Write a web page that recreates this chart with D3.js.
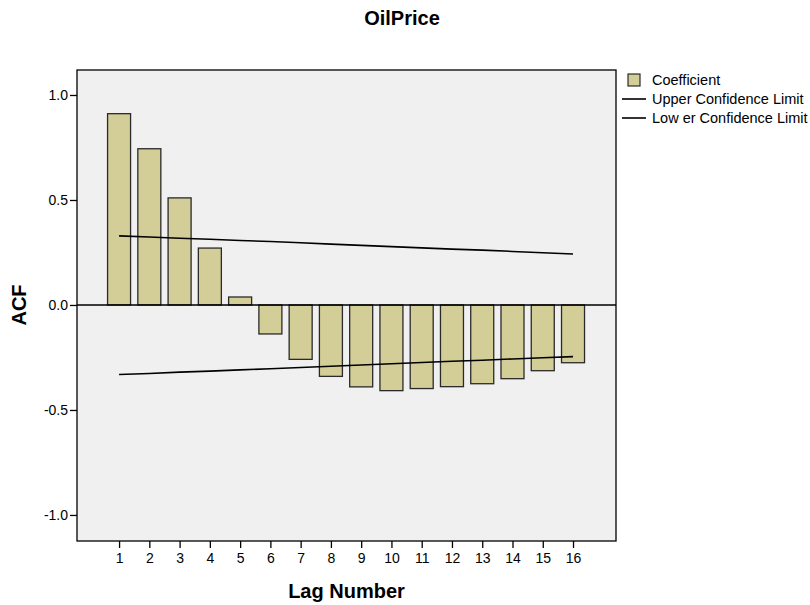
<!DOCTYPE html>
<html>
<head>
<meta charset="utf-8">
<script src="https://cdn.jsdelivr.net/npm/d3@7"></script>
<style>
  body { margin: 0; background: #fff; }
  text { font-family: "Liberation Sans", Arial, sans-serif; }
</style>
</head>
<body>
<div id="chart"></div>
<script>
var lags = [1, 2, 3, 4, 5, 6, 7, 8, 9, 10, 11, 12, 13, 14, 15, 16];
var coefficient = [0.911, 0.744, 0.510, 0.271, 0.038, -0.138, -0.259, -0.340, -0.390, -0.408, -0.398, -0.389, -0.375, -0.351, -0.313, -0.275];
var upperLimit = [0.329, 0.324, 0.318, 0.313, 0.307, 0.302, 0.296, 0.290, 0.284, 0.278, 0.272, 0.266, 0.261, 0.255, 0.249, 0.243];
var lowerLimit = [-0.331, -0.326, -0.320, -0.315, -0.309, -0.304, -0.298, -0.292, -0.286, -0.280, -0.274, -0.268, -0.263, -0.257, -0.251, -0.246];
var yTicks = [-1.0, -0.5, 0.0, 0.5, 1.0];
var legendLabels = ["Coefficient", "Upper Confidence Limit", "Low er Confidence Limit"];

var svgWidth = 810;
var svgHeight = 605;
var margin = { top: 70, right: 194, bottom: 64, left: 77 };
var width = svgWidth - margin.left - margin.right;
var height = svgHeight - margin.top - margin.bottom;

var svg = d3.select("#chart")
  .append("svg")
  .attr("width", svgWidth)
  .attr("height", svgHeight);

var chartGroup = svg.append("g")
  .attr("transform", `translate(${margin.left}, ${margin.top})`);

// scales
var xScale = d3.scaleLinear()
  .domain([-0.39, 17.42])
  .range([0, width]);

var yScale = d3.scaleLinear()
  .domain([-1.124, 1.119])
  .range([height, 0]);

var step = xScale(2) - xScale(1);
var barWidth = step * 0.76;

// plot background
chartGroup.append("rect")
  .attr("width", width)
  .attr("height", height)
  .attr("fill", "#f0f0f0");

// bars
chartGroup.selectAll(".bar")
  .data(coefficient)
  .enter()
  .append("rect")
  .attr("class", "bar")
  .attr("x", (d, i) => xScale(lags[i]) - barWidth / 2)
  .attr("y", d => yScale(Math.max(0, d)))
  .attr("width", barWidth)
  .attr("height", d => Math.abs(yScale(d) - yScale(0)))
  .attr("fill", "#d3ce97")
  .attr("stroke", "#2a2a2a")
  .attr("stroke-width", 1.3);

// zero line
chartGroup.append("line")
  .attr("x1", 0)
  .attr("x2", width)
  .attr("y1", yScale(0))
  .attr("y2", yScale(0))
  .attr("stroke", "#000")
  .attr("stroke-width", 1.3);

// confidence limits
var limitLine = d3.line()
  .x((d, i) => xScale(lags[i]))
  .y(d => yScale(d));

[upperLimit, lowerLimit].forEach(function(vals) {
  chartGroup.append("path")
    .datum(vals)
    .attr("d", limitLine)
    .attr("fill", "none")
    .attr("stroke", "#000")
    .attr("stroke-width", 1.6);
});

// frame
chartGroup.append("rect")
  .attr("width", width)
  .attr("height", height)
  .attr("fill", "none")
  .attr("stroke", "#000")
  .attr("stroke-width", 1.3);

// axes
var leftAxis = d3.axisLeft(yScale)
  .tickValues(yTicks)
  .tickFormat(d => d.toFixed(1))
  .tickSize(7)
  .tickSizeOuter(0);

var bottomAxis = d3.axisBottom(xScale)
  .tickValues(lags)
  .tickFormat(d => String(d))
  .tickSize(7)
  .tickSizeOuter(0);

var yAxisG = chartGroup.append("g").call(leftAxis);
var xAxisG = chartGroup.append("g")
  .attr("transform", `translate(0, ${height})`)
  .call(bottomAxis);

[yAxisG, xAxisG].forEach(function(g) {
  g.select(".domain").remove();
  g.selectAll("line").attr("stroke", "#000").attr("stroke-width", 1.3);
  g.selectAll("text")
    .attr("fill", "#000")
    .style("font-size", "14px")
    .style("font-family", "'Liberation Sans', Arial, sans-serif");
});
yAxisG.selectAll("text").attr("x", -9);
xAxisG.selectAll("text").attr("y", 12);

// title and axis labels
svg.append("text")
  .attr("x", 402)
  .attr("y", 25)
  .attr("text-anchor", "middle")
  .style("font-size", "20px")
  .style("font-weight", "bold")
  .text("OilPrice");

svg.append("text")
  .attr("transform", `translate(26, ${margin.top + yScale(0)}) rotate(-90)`)
  .attr("text-anchor", "middle")
  .style("font-size", "20px")
  .style("font-weight", "bold")
  .text("ACF");

svg.append("text")
  .attr("x", margin.left + width / 2)
  .attr("y", 598)
  .attr("text-anchor", "middle")
  .style("font-size", "20px")
  .style("font-weight", "bold")
  .text("Lag Number");

// legend
var legend = svg.append("g")
  .attr("transform", "translate(622, 80)");

legend.append("rect")
  .attr("x", 6)
  .attr("y", -6)
  .attr("width", 12)
  .attr("height", 12)
  .attr("fill", "#d3ce97")
  .attr("stroke", "#2a2a2a")
  .attr("stroke-width", 1.2);

[1, 2].forEach(function(i) {
  legend.append("line")
    .attr("x1", 0)
    .attr("x2", 24)
    .attr("y1", i * 19)
    .attr("y2", i * 19)
    .attr("stroke", "#000")
    .attr("stroke-width", 1.6);
});

legend.selectAll(".legend-label")
  .data(legendLabels)
  .enter()
  .append("text")
  .attr("class", "legend-label")
  .attr("x", 30)
  .attr("y", (d, i) => i * 19 + 5)
  .style("font-size", "14.5px")
  .text(d => d);
</script>
</body>
</html>
